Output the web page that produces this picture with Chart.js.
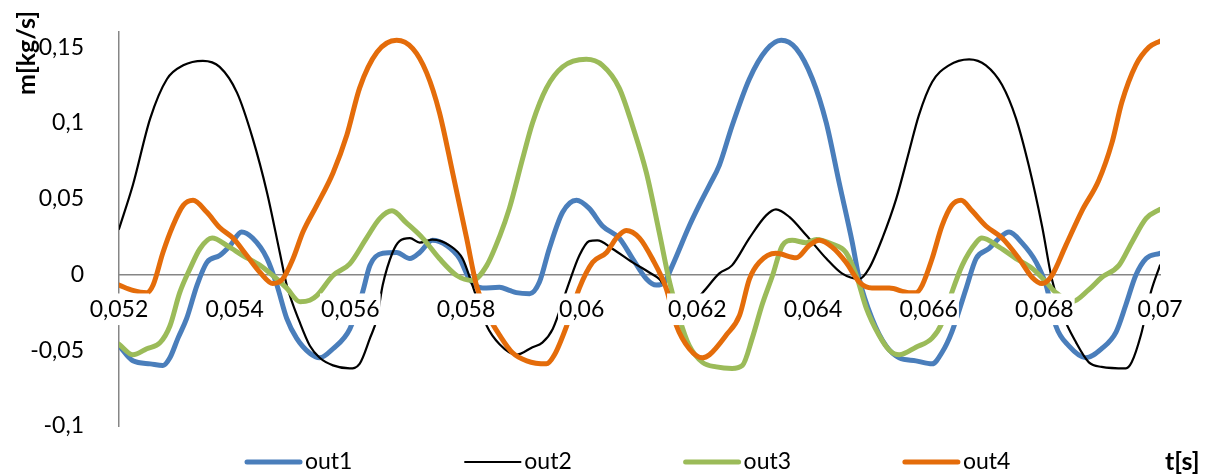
<!DOCTYPE html>
<html>
<head>
<meta charset="utf-8">
<script src="https://cdn.jsdelivr.net/npm/chart.js@4/dist/chart.umd.min.js"></script>
<style>
  html, body { margin: 0; padding: 0; background: #fff; }
  #wrap { width: 1205px; height: 475px; }
</style>
</head>
<body>
<div id="wrap"><canvas id="c" width="1205" height="475"></canvas></div>
<script>
// Mass flow at the four outlets over time
const seriesNames = ['out1', 'out2', 'out3', 'out4'];

const out1T = [0.05200,0.05224,0.05254,0.05276,0.05288,0.05302,0.05317,0.05335,0.05352,0.05374,0.05392,0.05412,0.05431,0.05456,0.05473,0.05490,0.05507,0.05530,0.05547,0.05570,0.05599,0.05621,0.05634,0.05656,0.05680,0.05703,0.05720,0.05742,0.05767,0.05789,0.05806,0.05829,0.05858,0.05875,0.05887,0.05910,0.05927,0.05944,0.05967,0.05991,0.06013,0.06036,0.06065,0.06088,0.06112,0.06129,0.06143,0.06157,0.06186,0.06203,0.06221,0.06238,0.06260,0.06290,0.06319,0.06345,0.06371,0.06399,0.06423,0.06445,0.06468,0.06480,0.06502,0.06526,0.06549,0.06578,0.06606,0.06623,0.06640,0.06665,0.06682,0.06704,0.06722,0.06739,0.06761,0.06786,0.06803,0.06820,0.06842,0.06872,0.06899,0.06924,0.06941,0.06958,0.06976,0.07000];
const out1M = [-0.047,-0.057,-0.059,-0.060,-0.055,-0.042,-0.029,-0.007,0.008,0.0125,0.019,0.028,0.024,0.0105,-0.007,-0.029,-0.042,-0.052,-0.055,-0.049,-0.036,-0.012,0.006,0.014,0.0145,0.0105,0.0145,0.0225,0.019,0.0105,-0.003,-0.009,-0.0085,-0.0105,-0.012,-0.0127,-0.005,0.017,0.041,0.049,0.0436,0.032,0.024,0.0105,-0.003,-0.007,-0.005,0.006,0.032,0.0456,0.059,0.072,0.098,0.129,0.148,0.1545,0.149,0.129,0.100,0.061,0.021,-0.003,-0.029,-0.047,-0.055,-0.057,-0.059,-0.0515,-0.038,-0.009,0.0105,0.017,0.024,0.028,0.021,0.008,-0.007,-0.034,-0.047,-0.055,-0.049,-0.038,-0.020,-0.0007,0.0105,0.014];

const out2T = [0.05200,0.05224,0.05254,0.05283,0.05311,0.05345,0.05374,0.05404,0.05431,0.05456,0.05478,0.05490,0.05513,0.05530,0.05547,0.05570,0.05599,0.05616,0.05634,0.05646,0.05656,0.05673,0.05685,0.05703,0.05720,0.05742,0.05772,0.05794,0.05811,0.05836,0.05858,0.05887,0.05915,0.05932,0.05950,0.05975,0.05996,0.06013,0.06027,0.06053,0.06088,0.06117,0.06134,0.06152,0.06180,0.06209,0.06238,0.06260,0.06290,0.06319,0.06336,0.06359,0.06388,0.06423,0.06450,0.06480,0.06497,0.06520,0.06544,0.06566,0.06583,0.06606,0.06635,0.06670,0.06699,0.06727,0.06751,0.06773,0.06796,0.06813,0.06830,0.06855,0.06877,0.06899,0.06941,0.06951,0.06967,0.06984,0.07000];
const out2M = [0.030,0.059,0.103,0.129,0.138,0.141,0.137,0.120,0.090,0.054,0.0145,-0.007,-0.032,-0.047,-0.055,-0.060,-0.062,-0.059,-0.042,-0.029,-0.007,0.0145,0.022,0.024,0.021,0.023,0.019,0.0105,-0.007,-0.034,-0.046,-0.053,-0.048,-0.045,-0.036,-0.009,0.0125,0.022,0.0225,0.017,0.008,0.0013,-0.003,-0.012,-0.022,-0.012,0.0007,0.006,0.024,0.039,0.043,0.038,0.026,0.0105,0.0007,-0.003,0.004,0.024,0.050,0.081,0.105,0.127,0.138,0.142,0.138,0.125,0.103,0.072,0.032,-0.003,-0.025,-0.045,-0.058,-0.061,-0.062,-0.058,-0.040,-0.012,0.006];

const out3T = [0.05200,0.05224,0.05248,0.05271,0.05288,0.05305,0.05323,0.05340,0.05361,0.05387,0.05414,0.05444,0.05466,0.05490,0.05513,0.05530,0.05542,0.05570,0.05599,0.05628,0.05651,0.05672,0.05697,0.05725,0.05754,0.05784,0.05811,0.05836,0.05858,0.05875,0.05898,0.05915,0.05939,0.05967,0.06008,0.06036,0.06065,0.06088,0.06112,0.06134,0.06152,0.06169,0.06186,0.06209,0.06233,0.06260,0.06278,0.06295,0.06312,0.06330,0.06347,0.06364,0.06388,0.06406,0.06433,0.06457,0.06475,0.06492,0.06514,0.06532,0.06549,0.06578,0.06606,0.06623,0.06640,0.06658,0.06682,0.06692,0.06722,0.06751,0.06779,0.06803,0.06820,0.06848,0.06877,0.06899,0.06929,0.06951,0.06976,0.07000];
const out3M = [-0.046,-0.053,-0.049,-0.045,-0.034,-0.012,0.004,0.017,0.024,0.019,0.0125,0.006,-0.0007,-0.009,-0.018,-0.017,-0.014,-0.0007,0.007,0.024,0.037,0.042,0.034,0.024,0.0105,-0.0007,-0.004,0.006,0.025,0.0436,0.0766,0.100,0.123,0.137,0.142,0.138,0.123,0.098,0.067,0.028,-0.005,-0.029,-0.047,-0.058,-0.061,-0.062,-0.060,-0.042,-0.020,-0.0007,0.019,0.0225,0.021,0.023,0.020,0.0145,-0.0007,-0.022,-0.040,-0.050,-0.053,-0.048,-0.042,-0.032,-0.012,0.006,0.021,0.024,0.018,0.0105,0.004,-0.005,-0.012,-0.018,-0.010,-0.002,0.006,0.021,0.037,0.043];

const out4T = [0.05200,0.05224,0.05248,0.05259,0.05276,0.05293,0.05311,0.05328,0.05352,0.05374,0.05397,0.05421,0.05444,0.05466,0.05483,0.05501,0.05518,0.05542,0.05570,0.05594,0.05616,0.05646,0.05680,0.05708,0.05732,0.05754,0.05777,0.05801,0.05818,0.05841,0.05858,0.05880,0.05905,0.05939,0.05953,0.05974,0.05996,0.06019,0.06043,0.06060,0.06077,0.06100,0.06122,0.06146,0.06164,0.06186,0.06209,0.06221,0.06250,0.06273,0.06290,0.06307,0.06336,0.06371,0.06393,0.06411,0.06433,0.06457,0.06480,0.06502,0.06532,0.06566,0.06578,0.06589,0.06606,0.06623,0.06640,0.06656,0.06675,0.06699,0.06727,0.06756,0.06779,0.06796,0.06813,0.06837,0.06865,0.06894,0.06917,0.06934,0.06958,0.06981,0.07000];
const out4M = [-0.007,-0.0105,-0.012,-0.007,0.0145,0.032,0.0456,0.049,0.041,0.031,0.024,0.0125,0.0013,-0.006,-0.003,0.0105,0.028,0.0456,0.067,0.092,0.123,0.1466,0.1545,0.149,0.133,0.107,0.067,0.024,-0.007,-0.029,-0.040,-0.0515,-0.057,-0.059,-0.053,-0.034,-0.009,0.008,0.0145,0.024,0.029,0.024,0.0105,-0.009,-0.034,-0.049,-0.055,-0.053,-0.040,-0.027,-0.003,0.008,0.014,0.011,0.019,0.0225,0.018,0.008,-0.005,-0.009,-0.009,-0.012,-0.012,-0.007,0.0105,0.032,0.0456,0.049,0.042,0.032,0.024,0.0105,-0.002,-0.006,-0.0007,0.019,0.042,0.062,0.087,0.1136,0.138,0.150,0.154];

// Axis ticks
const xTicks = [0.052, 0.054, 0.056, 0.058, 0.060, 0.062, 0.064, 0.066, 0.068, 0.070];
const yTicks = [-0.1, -0.05, 0, 0.05, 0.1, 0.15];

const xTitle = 't[s]';
const yTitle = 'm[kg/s]';

const FONT = 'Lato, "Open Sans", sans-serif';
Chart.defaults.font.family = FONT;
Chart.defaults.font.size = 23;
Chart.defaults.color = '#000';

function pairs(ts, ms) { return ts.map((t, i) => ({ x: t, y: ms[i] })); }
function decimalComma(v) {
  return String(Number(v.toFixed(4))).replace('.', ',');
}

const styles = [
  { color: '#4A7EBB', width: 5, order: 3 },
  { color: '#000000', width: 2.2, order: 2 },
  { color: '#9BBB59', width: 5, order: 1 },
  { color: '#E46C0A', width: 5, order: 0 }
];
const seriesT = [out1T, out2T, out3T, out4T];
const seriesM = [out1M, out2M, out3M, out4M];

const datasets = seriesNames.map((name, i) => ({
  label: name,
  data: pairs(seriesT[i], seriesM[i]),
  borderColor: styles[i].color,
  backgroundColor: styles[i].color,
  borderWidth: styles[i].width,
  order: styles[i].order,
  pointRadius: 0,
  pointHoverRadius: 0,
  cubicInterpolationMode: 'monotone',
  borderCapStyle: 'round',
  borderJoinStyle: 'round',
  fill: false
}));

// Legend row and axis titles drawn on the canvas
const decorations = {
  id: 'decorations',
  afterDraw(chart) {
    const ctx = chart.ctx;
    ctx.save();
    const legendY = 462;
    chart.data.datasets.forEach((ds, i) => {
      const x0 = 245 + i * 219.3;
      const thick = ds.borderWidth > 3;
      ctx.beginPath();
      ctx.strokeStyle = ds.borderColor;
      ctx.lineWidth = ds.borderWidth;
      ctx.lineCap = thick ? 'round' : 'butt';
      ctx.moveTo(x0 + (thick ? 2 : 0), legendY);
      ctx.lineTo(x0 + 57 - (thick ? 2 : 0), legendY);
      ctx.stroke();
      ctx.fillStyle = '#000';
      ctx.font = '23px ' + FONT;
      ctx.textAlign = 'left';
      ctx.textBaseline = 'middle';
      ctx.fillText(ds.label, x0 + 60, legendY);
    });
    ctx.fillStyle = '#000';
    ctx.font = 'bold 25px ' + FONT;
    ctx.textAlign = 'left';
    ctx.textBaseline = 'middle';
    ctx.fillText(xTitle, 1165, legendY);
    ctx.translate(27, 53);
    ctx.rotate(-Math.PI / 2);
    ctx.textAlign = 'center';
    ctx.fillText(yTitle, 0, 0);
    ctx.restore();
  }
};

new Chart(document.getElementById('c'), {
  type: 'line',
  data: { datasets },
  options: {
    responsive: false,
    animation: false,
    events: [],
    layout: { padding: { top: 32, bottom: 49, left: 0, right: 45 } },
    plugins: { legend: { display: false }, tooltip: { enabled: false } },
    scales: {
      x: {
        type: 'linear',
        position: { y: 0 },
        min: 0.052,
        max: 0.07,
        afterBuildTicks: (axis) => { axis.ticks = xTicks.map(v => ({ value: v })); },
        grid: { display: false },
        border: { display: true, color: '#868686', width: 1.5 },
        ticks: {
          z: 1,
          padding: 13,
          maxRotation: 0,
          autoSkip: false,
          color: '#000',
          showLabelBackdrop: true,
          backdropColor: '#ffffff',
          backdropPadding: { top: 2, bottom: 2, left: 1, right: 1 },
          callback: (v) => decimalComma(v)
        }
      },
      y: {
        type: 'linear',
        min: -0.1,
        max: 0.16,
        afterBuildTicks: (axis) => { axis.ticks = yTicks.map(v => ({ value: v })); },
        afterFit: (scale) => {
          scale.width = 119;
          scale.paddingTop = 0;
          scale.paddingBottom = 0;
        },
        grid: { display: false },
        border: { display: true, color: '#868686', width: 1.5 },
        ticks: {
          padding: 27,
          color: '#000',
          callback: (v) => decimalComma(v)
        }
      }
    }
  },
  plugins: [decorations]
});
</script>
</body>
</html>
